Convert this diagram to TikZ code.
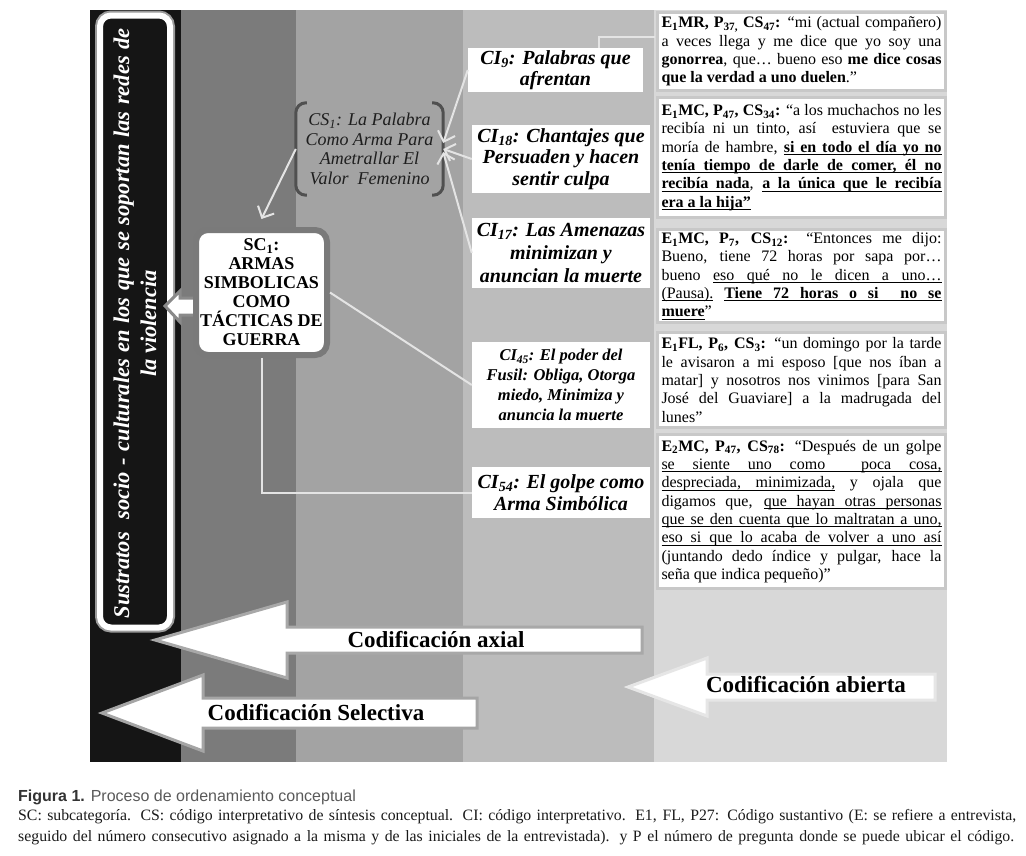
\documentclass[tikz,border=0pt]{standalone}
\usepackage{fontspec}
\setmainfont{Liberation Serif}
\newfontfamily\capsans{Liberation Sans}
\usetikzlibrary{arrows.meta,calc}
\definecolor{bandA}{HTML}{151515}
\definecolor{bandB}{HTML}{7B7B7B}
\definecolor{bandC}{HTML}{A3A3A3}
\definecolor{bandD}{HTML}{BCBCBC}
\definecolor{bandE}{HTML}{D8D8D8}
\definecolor{conn}{HTML}{E4E4E4}
\definecolor{qborder}{HTML}{C8C8C8}
\definecolor{vshadow}{HTML}{9A9A9A}
\definecolor{brkcol}{HTML}{505050}
\definecolor{csText}{HTML}{1E1E1E}
\definecolor{scborder}{HTML}{7A7A7A}
\definecolor{smallarr}{HTML}{8A8A8A}
\definecolor{axcol}{HTML}{A8A8A8}
\definecolor{selcol}{HTML}{A5A5A5}
\definecolor{abcol}{HTML}{E6E6E6}
\definecolor{capdark}{HTML}{333333}
\definecolor{capgray}{HTML}{5A5A5A}
\definecolor{capblack}{HTML}{1A1A1A}
\newcommand\qfont{\fontsize{16}{18.3}\selectfont\hyphenpenalty=10000\exhyphenpenalty=10000\tolerance=9999\emergencystretch=10pt}
\newcommand\cifont{\bfseries\itshape\fontsize{20}{21.5}\selectfont}
\newcommand\cifontsmall{\bfseries\itshape\fontsize{16.5}{20}\selectfont}
% breakable underline, word by word
\newcommand\uw[1]{\setbox0=\hbox{#1}\rlap{\rule[-2.6pt]{\wd0}{0.8pt}}\box0\relax}
\newcommand\usp{\leaders\hrule height -1.8pt depth 2.6pt\hskip\fontdimen2\font plus\fontdimen3\font minus\fontdimen4\font\relax}
\def\ulwords#1{\ulwordsA#1 \ulend}
\def\ulwordsA#1 #2\ulend{\uw{#1}\ifx\relax#2\relax\else\usp\ulwordsA#2\ulend\fi}
\begin{document}
\begin{tikzpicture}[x=1pt,y=-1pt,
  conn/.style={draw=conn, line width=2pt},
  carrow/.style={conn, -{Straight Barb[length=9pt,width=18pt]}},
  quote/.style={draw=qborder, line width=3pt, fill=white, text width=280pt, inner xsep=4pt, inner ysep=2pt, align=justify, anchor=north west, font=\qfont},
  cibox/.style={fill=white, inner sep=0pt, align=center, font=\cifont},
  brk/.style={draw=brkcol, line width=3pt, rounded corners=10pt},
  barrow/.style={fill=white, draw=#1, line width=3pt, line join=miter},
  codelabel/.style={font=\bfseries\fontsize{23}{25}\selectfont, inner sep=0pt},
]
\useasboundingbox (0,0) rectangle (1026,855);
\fill[white] (0,0) rectangle (1026,855);
% bands
\fill[bandA] (90,10) rectangle (181,762);
\fill[bandB] (181,10) rectangle (296,762);
\fill[bandC] (296,10) rectangle (463,762);
\fill[bandD] (463,10) rectangle (654,762);
\fill[bandE] (654,10) rectangle (947,762);

% vertical box
\node (vbox) [fill=bandA, draw=white, line width=6pt, rounded corners=11pt, minimum width=70pt, minimum height=612pt, inner sep=0pt, preaction={draw=vshadow, line width=10pt}] at (135,321.5) {};
\node (vtext) [rotate=90, text=white, font=\bfseries\itshape\fontsize{22.5}{27}\selectfont, align=center, inner sep=0pt] at ([yshift=-2pt]vbox.center) {\makebox[590pt][s]{Sustratos\ \ socio - culturales en los que se soportan las redes de}\\la violencia};

% quote boxes
\node (q1) [quote, minimum height=78pt] at (656,11) {\textbf{E\textsubscript{1}MR, P\textsubscript{37,} CS\textsubscript{47}:} “mi (actual compañero) a veces llega y me dice que yo soy una \textbf{gonorrea}, que… bueno eso \textbf{me dice cosas que la verdad a uno duelen}.”};
\node (q2) [quote, minimum height=120pt] at (656,96) {\textbf{E\textsubscript{1}MC, P\textsubscript{47}, CS\textsubscript{34}:} “a los muchachos no les\linebreak recibía ni un tinto, así\ \ estuviera que se\linebreak moría de hambre, \textbf{\ulwords{si en todo el día yo no}}\linebreak\textbf{\ulwords{tenía tiempo de darle de comer, él no}}\linebreak\textbf{\ulwords{recibía nada}}, \textbf{\ulwords{a la única que le recibía}}\linebreak\textbf{\ulwords{era a la hija”}}};
\node (q3) [quote, minimum height=93pt] at (656,228) {\textbf{E\textsubscript{1}MC, P\textsubscript{7}, CS\textsubscript{12}:} “Entonces me dijo:\linebreak Bueno, tiene 72 horas por sapa por…\linebreak bueno \ulwords{eso qué no le dicen a uno…}\linebreak\ulwords{(Pausa).}\usp\textbf{\ulwords{Tiene 72 horas o si}\usp\usp\ulwords{no se}}\linebreak\textbf{\ulwords{muere}}”};
\node (q4) [quote, minimum height=95pt] at (656,331) {\textbf{E\textsubscript{1}FL, P\textsubscript{6}, CS\textsubscript{3}:} “un domingo por la tarde\linebreak le avisaron a mi esposo [que nos íban a\linebreak matar] y nosotros nos vinimos [para San\linebreak José del Guaviare] a la madrugada del\linebreak lunes”};
\node (q5) [quote, minimum height=154pt] at (656,433) {\textbf{E\textsubscript{2}MC, P\textsubscript{47}, CS\textsubscript{78}:} “Después de un golpe\linebreak\ulwords{se siente uno como}\usp\usp\ulwords{poca cosa,}\linebreak\ulwords{despreciada, minimizada,} y ojala que\linebreak digamos que, \ulwords{que hayan otras personas}\linebreak\ulwords{que se den cuenta que lo maltratan a uno,}\linebreak\ulwords{eso si que lo acaba de volver a uno así}\linebreak(juntando dedo índice y pulgar, hace la\linebreak seña que indica pequeño)”};

% CI boxes
\node (ci9) [cibox, minimum width=175pt, minimum height=44pt] at (555.5,70) {CI\textsubscript{9}: Palabras que\\afrentan};
\node (ci18) [cibox, minimum width=178pt, minimum height=68pt] at (561,159) {CI\textsubscript{18}: Chantajes que\\Persuaden y hacen\\sentir culpa};
\node (ci17) [cibox, font=\bfseries\itshape\fontsize{20}{23}\selectfont, minimum width=178pt, minimum height=70pt] at (561,253) {CI\textsubscript{17}: Las Amenazas\\minimizan y\\anuncian la muerte};
\node (ci45) [cibox, font=\cifontsmall, minimum width=178pt, minimum height=86pt] at (561,385) {CI\textsubscript{45}: El poder del\\Fusil: Obliga, Otorga\\miedo, Minimiza y\\anuncia la muerte};
\node (ci54) [cibox, minimum width=178pt, minimum height=51pt] at (561,492.5) {CI\textsubscript{54}: El golpe como\\Arma Simbólica};

% CS1
\node (cs) [minimum width=147pt, minimum height=92pt, inner sep=0pt, align=center, font=\itshape\fontsize{18}{19.5}\selectfont, text=csText] at (369.5,149) {CS\textsubscript{1}: La Palabra\\Como Arma Para\\Ametrallar El\\Valor\ \ Femenino};
\draw[brk] ([xshift=11pt]cs.north west) -- (cs.north west) -- (cs.south west) -- ([xshift=11pt]cs.south west);
\draw[brk] ([xshift=-11pt]cs.north east) -- (cs.north east) -- (cs.south east) -- ([xshift=-11pt]cs.south east);

% small arrow SC1 -> vertical box
\filldraw[barrow=smallarr] (165,306) -- (180,291) -- (180,298) -- (200,298) -- (200,315) -- (180,315) -- (180,322) -- cycle;

% SC1
\node (sc) [draw=scborder, line width=6pt, fill=white, rounded corners=12pt, minimum width=131pt, minimum height=125pt, inner sep=0pt, align=center, font=\bfseries\fontsize{18}{19}\selectfont] at (261.5,292.5) {SC\textsubscript{1}:\\ARMAS\\SIMBOLICAS\\COMO\\TÁCTICAS DE\\GUERRA};

% connectors
\draw[carrow] (cs.west) -- ([yshift=8pt]sc.north);
\draw[carrow] (ci9.west) -- ([yshift=6pt]cs.east);
\draw[carrow] (ci18.west) -- (cs.east);
\draw[carrow] (ci17.west) -- ([yshift=-3pt]cs.east);
\draw[conn] (sc.east) -- (ci45.west);
\draw[conn] (sc.south) |- (ci54.west);
\coordinate (k1) at (655,37);
\draw[conn] (ci9.north -| 599,0) |- (k1);

% coding arrows
\filldraw[barrow=axcol] (155,640) -- (287,602) -- (287,627) -- (642,627) -- (642,653) -- (287,653) -- (287,678) -- cycle;
\node (ax) [codelabel, anchor=base] at (436,647) {Codificación axial};
\filldraw[barrow=selcol] (102,713) -- (203,675) -- (203,698) -- (477,698) -- (477,728) -- (203,728) -- (203,751) -- cycle;
\node (sel) [codelabel, anchor=base] at (316,720) {Codificación Selectiva};
\filldraw[barrow=abcol] (628,687) -- (707,658) -- (707,674) -- (935,674) -- (935,700) -- (707,700) -- (707,716) -- cycle;
\node (ab) [codelabel, anchor=base] at (806,692) {Codificación abierta};

% caption
\node (fig) [anchor=base west, inner sep=0pt, font=\capsans\fontsize{16}{18}\selectfont] at (18,801) {\textcolor{capdark}{\bfseries Figura 1.} \textcolor{capgray}{Proceso de ordenamiento conceptual}};
\node (c1) [anchor=base west, inner sep=0pt, font=\fontsize{15.8}{18}\selectfont, text=capblack] at (18,820) {\makebox[998pt][s]{SC: subcategoría. CS: código interpretativo de síntesis conceptual. CI: código interpretativo. E1, FL, P27: Código sustantivo (E: se refiere a entrevista,}};
\node (c2) [anchor=base west, inner sep=0pt, font=\fontsize{15.8}{18}\selectfont, text=capblack] at (18,841) {\makebox[996pt][s]{seguido del número consecutivo asignado a la misma y de las iniciales de la entrevistada). y P el número de pregunta donde se puede ubicar el código.}};
\end{tikzpicture}
\end{document}
